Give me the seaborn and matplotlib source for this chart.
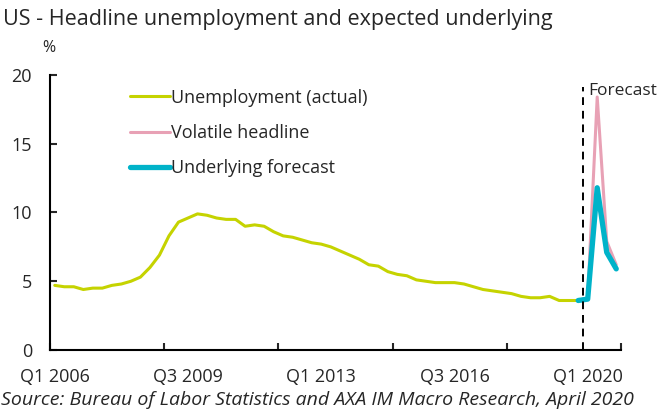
import numpy as np
import pandas as pd
import matplotlib.pyplot as plt
import seaborn as sns

sns.set_style("white")
plt.rcParams['font.family'] = ['Open Sans', 'DejaVu Sans']

# quarterly US unemployment rate, Q1 2006 .. Q4 2019
actual = [4.7, 4.6, 4.6, 4.4,
          4.5, 4.5, 4.7, 4.8,
          5.0, 5.3, 6.0, 6.9,
          8.3, 9.3, 9.6, 9.9,
          9.8, 9.6, 9.5, 9.5,
          9.0, 9.1, 9.0, 8.6,
          8.3, 8.2, 8.0, 7.8,
          7.7, 7.5, 7.2, 6.9,
          6.6, 6.2, 6.1, 5.7,
          5.5, 5.4, 5.1, 5.0,
          4.9, 4.9, 4.9, 4.8,
          4.6, 4.4, 4.3, 4.2,
          4.1, 3.9, 3.8, 3.8,
          3.9, 3.6, 3.6, 3.6]
# Q4 2019 .. Q4 2020
volatile = [3.6, 3.8, 18.4, 7.9, 6.2]
underlying = [3.6, 3.7, 11.8, 7.1, 5.9]

tick_labels = ["Q1 2006", "Q3 2009", "Q1 2013", "Q3 2016", "Q1 2020"]
tick_pos = [0, 14, 28, 42, 56]

n_act = len(actual)
df_act = pd.DataFrame({"q": np.arange(n_act), "v": actual})
df_fc = pd.DataFrame({"q": np.arange(n_act - 1, n_act - 1 + len(volatile)),
                      "vol": volatile, "und": underlying})

fig = plt.figure(figsize=(6.62, 4.09), dpi=100)
ax = fig.add_axes([50/662, 1-350/409, 571/662, 275/409])

sns.lineplot(data=df_act, x="q", y="v", ax=ax, color="#c5d300", lw=2.2,
             label="Unemployment (actual)")
sns.lineplot(data=df_fc, x="q", y="vol", ax=ax, color="#e8a1b5", lw=2.2,
             label="Volatile headline")
sns.lineplot(data=df_fc, x="q", y="und", ax=ax, color="#00b3c9", lw=3.8,
             label="Underlying forecast")

ax.plot([55.5, 55.5], [0, 19.1], color="black", lw=1.4, ls=(0, (4, 3)))
ax.text(56.1, 18.8, "Forecast", fontsize=12.5, va="center", ha="left")

ax.set_xlim(-0.5, 59.5)
ax.set_ylim(0, 20)
ax.set_yticks([0, 5, 10, 15, 20])
ax.set_xticks(tick_pos)
ax.set_xticklabels(tick_labels)
ax.set_xticks([-0.5, 11.5, 23.5, 35.5, 47.5, 59.5], minor=True)
ax.tick_params(axis="x", which="major", length=0, pad=13, labelsize=13)
ax.tick_params(axis="x", which="minor", direction="in", length=5, width=1.5,
               bottom=True)
ax.tick_params(axis="y", direction="in", length=5, width=1.5, pad=13,
               labelsize=13, left=True)
ax.set_xlabel("")
ax.set_ylabel("")
for s in ["top", "right"]:
    ax.spines[s].set_visible(False)
for s in ["left", "bottom"]:
    ax.spines[s].set_color("black")
    ax.spines[s].set_linewidth(1.5)

ax.legend(loc="upper left", bbox_to_anchor=(0.14, 0.95), frameon=False,
          fontsize=13, handlelength=2.2, handletextpad=0.1,
          labelspacing=0.95, borderpad=0, borderaxespad=0)

fig.text(0.005, 0.953, "US - Headline unemployment and expected underlying",
         fontsize=15.5, va="center", ha="left")
fig.text(42/662, 1-48/409, "%", fontsize=11.5, va="center", ha="left")
fig.text(0.002, 0.022,
         "Source: Bureau of Labor Statistics and AXA IM Macro Research, April 2020",
         fontsize=14, style="italic", va="center", ha="left")

fig.savefig("out.png", dpi=100)
